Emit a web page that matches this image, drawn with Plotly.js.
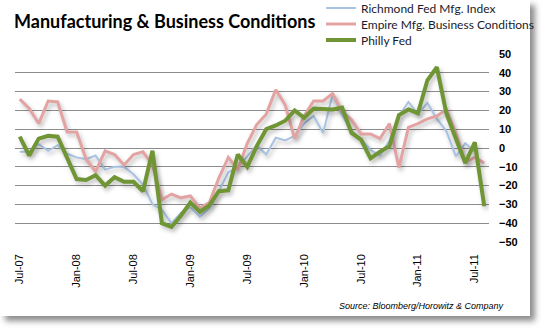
<!DOCTYPE html>
<html>
<head>
<meta charset="utf-8">
<script src="https://cdn.plot.ly/plotly-3.0.1.min.js"></script>
<style>
  html, body { margin: 0; padding: 0; background: #ffffff; }
  #card { position: absolute; left: 0; top: 0; width: 530px; height: 316px; background: #fff;
          box-shadow: 5px 5px 6px rgba(0,0,0,0.45); }
  #chart { position: absolute; left: 0; top: 0; width: 545px; height: 330px; }
  .scatterlayer .js-line { filter: drop-shadow(2px 3px 2px rgba(0,0,0,0.25)); }
</style>
</head>
<body>
<div id="card"></div>
<div id="chart"></div>
<script>
// Months Jul-07 .. Aug-11
const months = ["Jul-07","Aug-07","Sep-07","Oct-07","Nov-07","Dec-07",
  "Jan-08","Feb-08","Mar-08","Apr-08","May-08","Jun-08","Jul-08","Aug-08","Sep-08","Oct-08","Nov-08","Dec-08",
  "Jan-09","Feb-09","Mar-09","Apr-09","May-09","Jun-09","Jul-09","Aug-09","Sep-09","Oct-09","Nov-09","Dec-09",
  "Jan-10","Feb-10","Mar-10","Apr-10","May-10","Jun-10","Jul-10","Aug-10","Sep-10","Oct-10","Nov-10","Dec-10",
  "Jan-11","Feb-11","Mar-11","Apr-11","May-11","Jun-11","Jul-11","Aug-11"];

const richmond = [-2,-2,2,-1.5,1.5,-3,
  -5,-6,-4,-11.5,-10,-10,-14,-19.5,-30,-33,-40,-34.5,
  -31.5,-36.5,-32,-23,-13,-10,-4.5,1.5,-3.5,5.5,4,6.5,
  13,17,8,28.5,17.5,9,5,-1,-4,4,17,24.5,
  18,24,15.5,9,-4.5,2.5,-2,null];

const empire = [26,21,13,25,24.5,8.5,
  8.5,-6,-12.5,-1.5,-3.5,-9,-3.5,-2,-9,-27.5,-24.5,-26.5,
  -25.5,-32,-29,-16,-5,-11.5,2.5,12.5,18,31,23,5,
  17,25,25,29,19.5,15,7.5,7.5,5,13,-10.5,11,
  13,15.5,17,20.5,8,-7.5,-5,-8];

const philly = [6,-4,5,6.5,6,-5,
  -16.5,-17,-14.5,-20,-15.5,-18,-18,-23,-1.5,-40,-42,-36,
  -29,-34,-30.5,-23,-22.5,-3.5,-10,1,10,12,14.5,20,
  16,21,20.5,20.5,21.5,8,4.5,-5.5,-2,1,17.5,20.5,
  18.5,36,43,18.5,5,-8,3,-31];

const seriesNames = ["Richmond Fed Mfg. Index","Empire Mfg. Business Conditions","Philly Fed"];
const tickLabels = ["Jul-07","Jan-08","Jul-08","Jan-09","Jul-09","Jan-10","Jul-10","Jan-11","Jul-11"];

const idx = months.map((m, i) => i);
const tickVals = tickLabels.map(l => months.indexOf(l));
const betweenTicks = tickVals.map(v => v - 0.5);
const xr = [-0.5, months.length - 0.5];

const traces = [
  {x: idx, y: richmond, name: seriesNames[0], type: "scatter", mode: "lines", legend: "legend",
   line: {color: "#a9c3e3", width: 2}, text: months, hoverinfo: "text+y"},
  {x: idx, y: empire, name: seriesNames[1], type: "scatter", mode: "lines", legend: "legend2",
   line: {color: "#e3a3a3", width: 3}, text: months, hoverinfo: "text+y"},
  {x: idx, y: philly, name: seriesNames[2], type: "scatter", mode: "lines", legend: "legend3",
   line: {color: "#6f9534", width: 4}, text: months, hoverinfo: "text+y"}
];

// figure 545x330; plot area in px: left 15, right 489, top 54, bottom 242
const W = 545, H = 330;
const P = {l: 15, r: 489, t: 54, b: 242};
const px2x = v => (v - P.l) / (P.r - P.l);
const px2y = v => (P.b - v) / (P.b - P.t);

const grid = "#8c8c8c";
const legFont = {size: 12, color: "#1a1a2a", family: "Lato, sans-serif"};
const mkLegend = rowY => ({x: px2x(321), xanchor: "left", y: px2y(rowY), yanchor: "middle",
  bgcolor: "rgba(0,0,0,0)", font: legFont, itemwidth: 30, borderwidth: 0});

const layout = {
  width: W, height: H,
  margin: {l: P.l, r: W - P.r, t: P.t, b: H - P.b, pad: 0, autoexpand: false},
  paper_bgcolor: "rgba(0,0,0,0)", plot_bgcolor: "#ffffff",
  font: {family: "Liberation Sans, Arial, sans-serif", color: "#000"},
  title: {text: "Manufacturing & Business Conditions", xref: "container", yref: "container",
          x: 14/W, xanchor: "left", y: 1 - 22/H, yanchor: "middle",
          font: {family: "Lato, sans-serif", size: 18, color: "#000", weight: "bold"}},
  showlegend: true,
  legend: mkLegend(8),
  legend2: mkLegend(24),
  legend3: mkLegend(40),
  xaxis: {type: "linear", range: xr, tickvals: tickVals, ticktext: tickLabels, tickangle: -90,
          showgrid: false, zeroline: false, showline: false, ticks: "", automargin: false,
          ticklabelstandoff: 9, tickfont: {size: 11, color: "#000"}, fixedrange: true},
  yaxis: {side: "right", range: [-50, 50], dtick: 10, tick0: 0, showgrid: true, gridcolor: grid,
          gridwidth: 1, zeroline: false, showline: false, ticks: "", ticklabelstandoff: 9,
          automargin: false, tickfont: {size: 11, color: "#000", weight: "bold"}, fixedrange: true},
  yaxis2: {overlaying: "y", side: "left", range: [-50, 50], dtick: 10, tick0: 0, showgrid: false,
           zeroline: false, showline: true, linecolor: grid, linewidth: 1, ticks: "outside",
           ticklen: 3, tickcolor: grid, showticklabels: false, automargin: false, fixedrange: true},
  xaxis2: {overlaying: "x", anchor: "free", position: 0.5, range: xr, tickvals: betweenTicks,
           ticks: "inside", ticklen: 4, tickcolor: grid, showticklabels: false, showgrid: false,
           zeroline: false, showline: false, automargin: false, fixedrange: true},
  annotations: [{text: "<i>Source: Bloomberg/Horowitz &amp; Company</i>", xref: "paper", yref: "paper",
                 x: px2x(506), xanchor: "right", y: px2y(306), yanchor: "middle",
                 showarrow: false, font: {size: 9, color: "#000"}}]
};

Plotly.newPlot("chart", traces, layout, {displayModeBar: false, staticPlot: true});
</script>
</body>
</html>
